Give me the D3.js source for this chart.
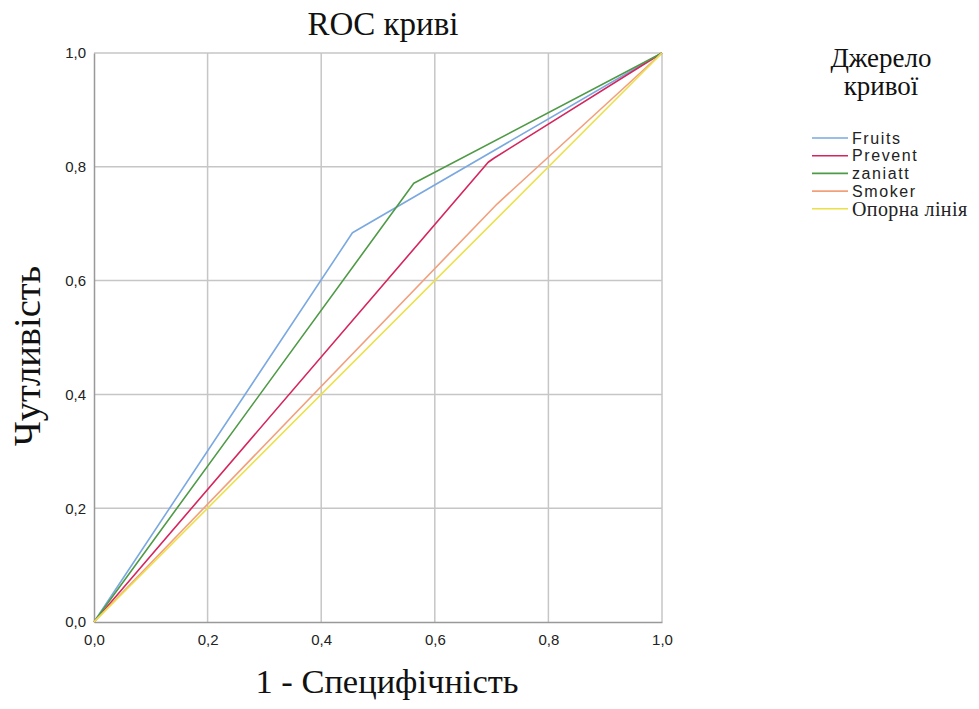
<!DOCTYPE html>
<html><head><meta charset="utf-8">
<script src="https://cdn.jsdelivr.net/npm/d3@7"></script>
<style>body{margin:0;background:#fff;} svg{display:block;}</style>
</head><body>
<script>
const seriesNames = ["Fruits", "Prevent", "zaniatt", "Smoker", "Опорна лінія"];
const seriesColors = ["#7aa8e0", "#d5255c", "#4f9a46", "#f2a07c", "#ece04a"];
const fruitsX = [0, 0.455, 1];
const fruitsY = [0, 0.684, 1];
const preventX = [0, 0.694, 0.704, 1];
const preventY = [0, 0.808, 0.815, 1];
const zaniattX = [0, 0.563, 1];
const zaniattY = [0, 0.771, 1];
const smokerX = [0, 0.71, 1];
const smokerY = [0, 0.735, 1];
const refX = [0, 1];
const refY = [0, 1];
const tickValues = [0, 0.2, 0.4, 0.6, 0.8, 1.0];
const tickLabels = ["0,0", "0,2", "0,4", "0,6", "0,8", "1,0"];

const seriesX = [fruitsX, preventX, zaniattX, smokerX, refX];
const seriesY = [fruitsY, preventY, zaniattY, smokerY, refY];

const W = 979, H = 709;
const svg = d3.select("body").append("svg").attr("width", W).attr("height", H);
const x = d3.scaleLinear().domain([0, 1]).range([94, 662]);
const y = d3.scaleLinear().domain([0, 1]).range([622, 53]);

// grid
const g = svg.append("g");
g.selectAll("line.v").data(tickValues.slice(1, 5)).enter().append("line")
  .attr("x1", d => x(d)).attr("x2", d => x(d)).attr("y1", y(0)).attr("y2", y(1))
  .attr("stroke", "#c6c6c6").attr("stroke-width", 1.5);
g.selectAll("line.h").data(tickValues.slice(1, 5)).enter().append("line")
  .attr("y1", d => y(d)).attr("y2", d => y(d)).attr("x1", x(0)).attr("x2", x(1))
  .attr("stroke", "#c6c6c6").attr("stroke-width", 1.5);
// frame top/right
g.append("line").attr("x1", x(0)).attr("x2", x(1)).attr("y1", y(1)).attr("y2", y(1)).attr("stroke", "#c6c6c6").attr("stroke-width", 1.5);
g.append("line").attr("x1", x(1)).attr("x2", x(1)).attr("y1", y(0)).attr("y2", y(1)).attr("stroke", "#c6c6c6").attr("stroke-width", 1.5);

// axes
const fmt = d => tickLabels[tickValues.indexOf(d)];
const xAxis = svg.append("g").attr("transform", `translate(0,${y(0)})`)
  .call(d3.axisBottom(x).tickValues(tickValues).tickFormat(fmt).tickSize(0).tickPadding(12));
const yAxis = svg.append("g").attr("transform", `translate(${x(0)},0)`)
  .call(d3.axisLeft(y).tickValues(tickValues).tickFormat(fmt).tickSize(0).tickPadding(8));
[xAxis, yAxis].forEach(a => {
  a.select(".domain").attr("stroke", "#999").attr("stroke-width", 1.5);
  a.selectAll("text").attr("font-family", "'Liberation Sans', Arial, sans-serif").attr("font-size", 15).attr("fill", "#222");
});

// lines
const line = d3.line().x(d => x(d[0])).y(d => y(d[1]));
seriesNames.forEach((n, i) => {
  const pts = seriesX[i].map((v, j) => [v, seriesY[i][j]]);
  svg.append("path").datum(pts).attr("d", line).attr("fill", "none")
    .attr("stroke", seriesColors[i]).attr("stroke-width", 1.6).attr("stroke-linejoin", "round");
});

// titles
const serif = "'Liberation Serif', 'Times New Roman', serif";
svg.append("text").attr("x", 383).attr("y", 35).attr("text-anchor", "middle")
  .attr("font-family", serif).attr("font-size", 33).attr("fill", "#111").text("ROC криві");
svg.append("text").attr("x", 387).attr("y", 693).attr("text-anchor", "middle")
  .attr("font-family", serif).attr("font-size", 34.5).attr("fill", "#111").text("1 - Специфічність");
svg.append("text").attr("transform", "translate(40,356) rotate(-90)").attr("text-anchor", "middle")
  .attr("font-family", serif).attr("font-size", 38.5).attr("fill", "#111").text("Чутливість");

// legend
svg.append("text").attr("x", 881).attr("y", 67).attr("text-anchor", "middle")
  .attr("font-family", serif).attr("font-size", 27).attr("fill", "#111").text("Джерело");
svg.append("text").attr("x", 881).attr("y", 95).attr("text-anchor", "middle")
  .attr("font-family", serif).attr("font-size", 27).attr("fill", "#111").text("кривої");
seriesNames.forEach((n, i) => {
  const yy = 138 + i * 17.7;
  svg.append("line").attr("x1", 812).attr("x2", 848).attr("y1", yy).attr("y2", yy)
    .attr("stroke", seriesColors[i]).attr("stroke-width", 1.6);
  const isSerif = i === 4;
  svg.append("text").attr("x", 852).attr("y", yy).attr("dy", "0.35em")
    .attr("font-family", isSerif ? serif : "'Liberation Sans', Arial, sans-serif")
    .attr("font-size", isSerif ? 20 : 16)
    .attr("letter-spacing", isSerif ? 0.4 : 1.6)
    .attr("fill", "#222").text(n);
});
</script>
</body></html>
